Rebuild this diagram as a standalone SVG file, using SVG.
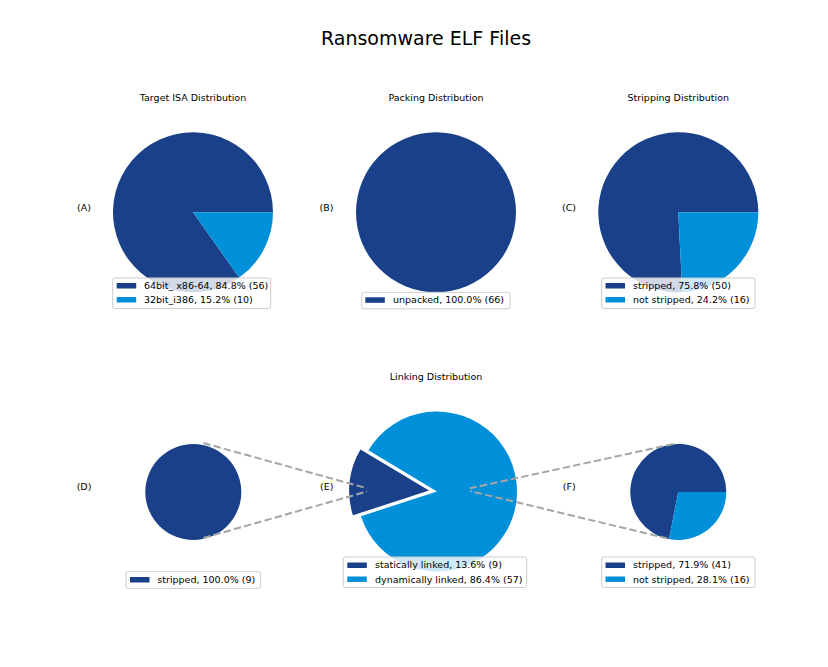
<svg xmlns="http://www.w3.org/2000/svg" width="828" height="667" viewBox="0 0 828 667">
<style>
text{font-family:"DejaVu Sans","Liberation Sans",sans-serif;fill:#000}
.title{font-size:19px;text-anchor:middle}
.sub{font-size:9.5px;text-anchor:middle}
.lab{font-size:9.5px;text-anchor:middle}
.leg{font-size:9.5px}
.dark{fill:#1a4089}
.light{fill:#0090da}
.frame{fill:#fff;fill-opacity:0.8;stroke:#cccccc;stroke-width:1}
.conn{fill:none;stroke:#a6a6a6;stroke-width:2;stroke-dasharray:7.4 3.2}
</style>
<rect width="828" height="667" fill="#fff"/>
<text class="title" x="426" y="45">Ransomware ELF Files</text>

<g id="pieA">
<text class="sub" x="193" y="100.5">Target ISA Distribution</text>
<text class="lab" x="84" y="210.5">(A)</text>
<path class="dark" d="M193 212.3 L239.2 277.6 A80 80 0 1 1 273 212.3 Z"/>
<path class="light" d="M193 212.3 L273 212.3 A80 80 0 0 1 239.2 277.6 Z"/>
<rect class="frame" x="112.7" y="278" width="158" height="30.5" rx="2"/>
<rect class="dark" x="116.7" y="283" width="19.5" height="5.5"/>
<rect class="light" x="116.7" y="297" width="19.5" height="5.5"/>
<text class="leg" x="144" y="288.7">64bit_ x86-64, 84.8% (56)</text>
<text class="leg" x="144" y="302.7">32bit_i386, 15.2% (10)</text>
</g>

<g id="pieB">
<text class="sub" x="436" y="100.5">Packing Distribution</text>
<text class="lab" x="326.5" y="210.5">(B)</text>
<circle class="dark" cx="436" cy="212.3" r="80"/>
<rect class="frame" x="361.7" y="292.3" width="148.3" height="16.5" rx="2"/>
<rect class="dark" x="365.3" y="297.3" width="19.5" height="5.5"/>
<text class="leg" x="393" y="302.8">unpacked, 100.0% (66)</text>
</g>

<g id="pieC">
<text class="sub" x="678.3" y="100.5">Stripping Distribution</text>
<text class="lab" x="569" y="210.5">(C)</text>
<path class="dark" d="M678.3 212.3 L682.3 292.2 A80 80 0 1 1 758.3 212.3 Z"/>
<path class="light" d="M678.3 212.3 L758.3 212.3 A80 80 0 0 1 682.3 292.2 Z"/>
<rect class="frame" x="601.7" y="278" width="153.3" height="30.5" rx="2"/>
<rect class="dark" x="605.5" y="283" width="19.5" height="5.5"/>
<rect class="light" x="605.5" y="297" width="19.5" height="5.5"/>
<text class="leg" x="633" y="288.7">stripped, 75.8% (50)</text>
<text class="leg" x="633" y="302.7">not stripped, 24.2% (16)</text>
</g>

<g id="pieD">
<text class="lab" x="84" y="490">(D)</text>
<circle class="dark" cx="193.3" cy="492" r="48"/>
<rect class="frame" x="126" y="571.7" width="134.7" height="16.6" rx="2"/>
<rect class="dark" x="130" y="577" width="19.5" height="5.5"/>
<text class="leg" x="157.3" y="582.8">stripped, 100.0% (9)</text>
</g>

<g id="pieE">
<text class="sub" x="436" y="380">Linking Distribution</text>
<text class="lab" x="326.7" y="490">(E)</text>
<path class="light" d="M437 491.5 L360.9 516.2 A80 80 0 1 0 368.4 450.3 Z"/>
<path class="dark" d="M429.05 490.6 L352.97 515.32 A80 80 0 0 1 360.48 449.4 Z"/>
<rect class="frame" x="343.3" y="557" width="183.4" height="30.5" rx="2"/>
<rect class="dark" x="347.3" y="562.5" width="19.5" height="5.5"/>
<rect class="light" x="347.3" y="576.5" width="19.5" height="5.5"/>
<text class="leg" x="375" y="568.3">statically linked, 13.6% (9)</text>
<text class="leg" x="375" y="582.5">dynamically linked, 86.4% (57)</text>
</g>

<g id="pieF">
<text class="lab" x="569.3" y="490">(F)</text>
<path class="dark" d="M678.3 492 L669 539.1 A48 48 0 1 1 726.3 492 Z"/>
<path class="light" d="M678.3 492 L726.3 492 A48 48 0 0 1 669 539.1 Z"/>
<rect class="frame" x="601.7" y="557" width="153.3" height="30.5" rx="2"/>
<rect class="dark" x="605.5" y="562.5" width="19.5" height="5.5"/>
<rect class="light" x="605.5" y="576.5" width="19.5" height="5.5"/>
<text class="leg" x="633" y="568.3">stripped, 71.9% (41)</text>
<text class="leg" x="633" y="582.5">not stripped, 28.1% (16)</text>
</g>

<g id="connectors">
<line class="conn" x1="203.3" y1="443" x2="367" y2="488.3"/>
<line class="conn" x1="203.3" y1="538" x2="367" y2="491.5"/>
<line class="conn" x1="673.5" y1="444" x2="470" y2="488.3"/>
<line class="conn" x1="667.5" y1="538.5" x2="470" y2="491"/>
</g>
</svg>
